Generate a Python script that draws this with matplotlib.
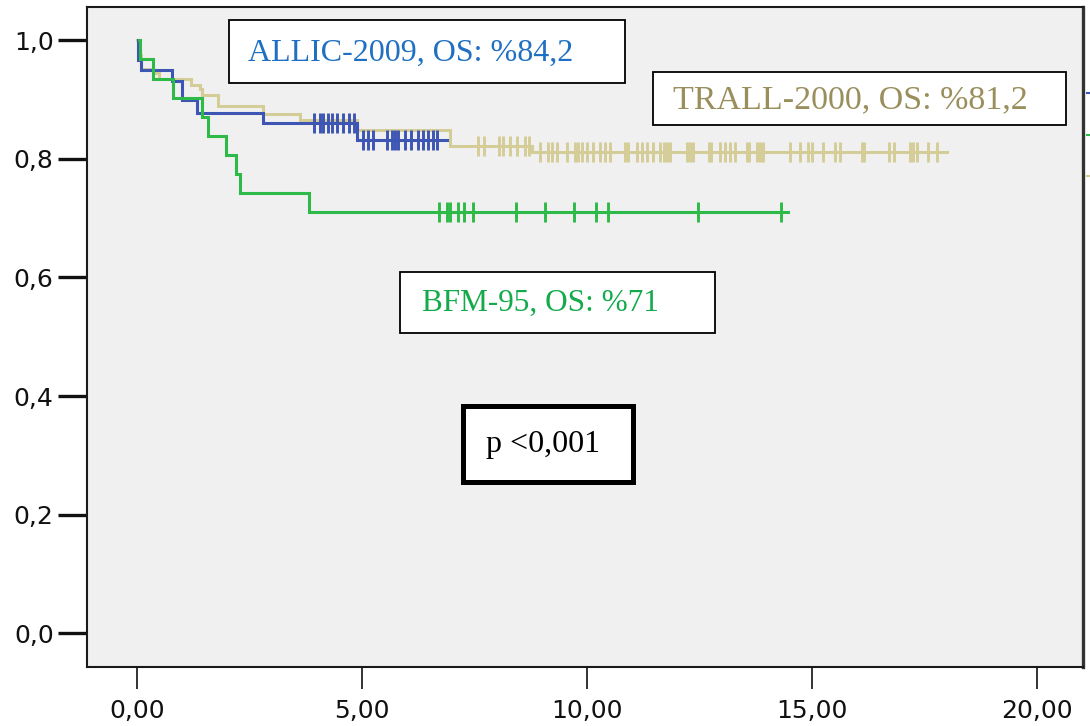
import numpy as np
import matplotlib
matplotlib.use("Agg")
import matplotlib.pyplot as plt
from matplotlib.patches import Rectangle
from matplotlib.lines import Line2D

# ── survival data (years, cumulative survival) ────────────────────────────────
# ALLIC-2009
allic_start = 0.03
allic_end = 6.88
allic_event_t = [0.03, 0.10, 0.77, 1.00, 1.33, 2.79, 4.90]
allic_surv = [0.966, 0.949, 0.932, 0.899, 0.878, 0.861, 0.832]
allic_censor = [3.94, 4.07, 4.14, 4.24, 4.33, 4.44, 4.58, 4.71, 4.82,
                5.03, 5.14, 5.25, 5.55, 5.66, 5.73, 5.81, 5.96, 6.10,
                6.25, 6.36, 6.47, 6.58, 6.66]

# TRALL-2000
trall_start = 0.0
trall_end = 17.99
trall_event_t = [0.05, 0.09, 0.36, 0.49, 1.21, 1.40, 1.45, 1.81,
                 2.79, 3.62, 4.88, 6.95, 8.77]
trall_surv = [0.975, 0.952, 0.944, 0.935, 0.925, 0.918, 0.907, 0.889,
              0.875, 0.865, 0.848, 0.821, 0.812]
trall_censor = [7.58, 7.70, 8.05, 8.14, 8.29, 8.44, 8.62, 8.70,
                8.96, 9.14, 9.22, 9.33, 9.55, 9.73, 9.81, 9.88, 9.99,
                10.14, 10.29, 10.40, 10.51, 10.84, 10.92, 11.10, 11.22,
                11.33, 11.47, 11.62, 11.70, 11.77, 11.84, 12.22, 12.29,
                12.36, 12.70, 12.75, 12.96, 13.07, 13.18, 13.29, 13.55,
                13.61, 13.77, 13.84, 13.92, 14.51, 14.73, 14.92, 14.99,
                15.25, 15.51, 15.62, 16.10, 16.16, 16.70, 16.81, 17.18,
                17.25, 17.33, 17.58, 17.77]

# BFM-95
bfm_start = 0.05
bfm_end = 14.46
bfm_event_t = [0.07, 0.36, 0.80, 1.44, 1.58, 1.97, 2.21, 2.29, 3.83]
bfm_surv = [0.968, 0.935, 0.903, 0.871, 0.839, 0.806, 0.774, 0.742, 0.710]
bfm_censor = [6.70, 6.88, 6.96, 7.13, 7.27, 7.47, 8.42, 9.06, 9.71,
              10.21, 10.47, 12.46, 14.30]

x_ticks = [0, 5, 10, 15, 20]
x_ticklabels = ["0,00", "5,00", "10,00", "15,00", "20,00"]
y_ticks = [0.0, 0.2, 0.4, 0.6, 0.8, 1.0]
y_ticklabels = ["0,0", "0,2", "0,4", "0,6", "0,8", "1,0"]

BLUE = "#3D55B3"
GREEN = "#2EBA48"
TAN = "#D5CD97"
PANEL = "#F0F0F0"


def km_curve(ax, start, end, event_t, surv, censor, color, z):
    t = np.r_[start, event_t, end]
    s = np.r_[1.0, surv, surv[-1]]
    ax.step(t, s, where="post", color=color, lw=2.2, zorder=z,
            solid_joinstyle="miter")
    # survival level at each censoring time
    idx = np.searchsorted(t, censor, side="right") - 1
    ax.plot(censor, s[idx], ls="none", marker="|", ms=14, mew=2.1,
            color=color, zorder=z)


fig = plt.figure(figsize=(10.9, 7.26), dpi=100)
fig.patch.set_facecolor("white")
ax = fig.add_axes([87 / 1090, 59 / 726, 996 / 1090, 660 / 726])
ax.set_facecolor(PANEL)

km_curve(ax, trall_start, trall_end, trall_event_t, trall_surv, trall_censor, TAN, 3)
km_curve(ax, allic_start, allic_end, allic_event_t, allic_surv, allic_censor, BLUE, 4)
km_curve(ax, bfm_start, bfm_end, bfm_event_t, bfm_surv, bfm_censor, GREEN, 5)

ax.set_xlim(-1.11, 21.02)
ax.set_ylim(-0.057, 1.056)

ax.set_xticks(x_ticks)
ax.set_xticklabels(x_ticklabels)
ax.set_yticks(y_ticks)
ax.set_yticklabels(y_ticklabels)
for lab in ax.get_xticklabels() + ax.get_yticklabels():
    lab.set_family("DejaVu Sans")
    lab.set_fontsize(18)
    lab.set_color("#111111")
ax.tick_params(axis="y", direction="out", length=21, width=2.4, pad=3, color="#111111")
ax.tick_params(axis="x", direction="out", length=16, width=1.2, pad=7, color="#111111")

for side in ["left", "bottom", "top"]:
    ax.spines[side].set_linewidth(1.5)
    ax.spines[side].set_color("#1a1a1a")
ax.spines["right"].set_linewidth(2.4)
ax.spines["right"].set_color("#333333")

# annotation boxes: (corner, width, height, border, text, colour, text pos, size)
boxes = [
    ((2.04, 0.927), 8.80, 0.107, 1.3, "ALLIC-2009, OS: %84,2", "#1F70C2", (2.47, 0.978), 23),
    ((11.47, 0.857), 9.17, 0.089, 1.3, "TRALL-2000, OS: %81,2", "#9A8F5C", (11.91, 0.899), 24.5),
    ((5.84, 0.506), 7.00, 0.103, 1.3, "BFM-95, OS: %71", "#14AA4C", (6.33, 0.556), 22.5),
    ((7.24, 0.255), 3.78, 0.128, 3.6, "p <0,001", "#000000", (7.76, 0.318), 23),
]
for (x0, y0), w, h, lw, txt, col, (tx, ty), fs in boxes:
    ax.add_patch(Rectangle((x0, y0), w, h, facecolor="white", edgecolor="black",
                           lw=lw, zorder=6, clip_on=False))
    ax.text(tx, ty, txt, color=col, fontsize=fs, family="Liberation Serif",
            ha="left", va="center", zorder=7)

# clipped legend remnants at the right edge
for yy, col in [(93, BLUE), (135, GREEN), (176, TAN)]:
    fig.add_artist(Line2D([1087 / 1090, 1090 / 1090], [1 - yy / 726] * 2,
                          color=col, lw=1.5))

fig.savefig("out.png", dpi=100, facecolor="white")
